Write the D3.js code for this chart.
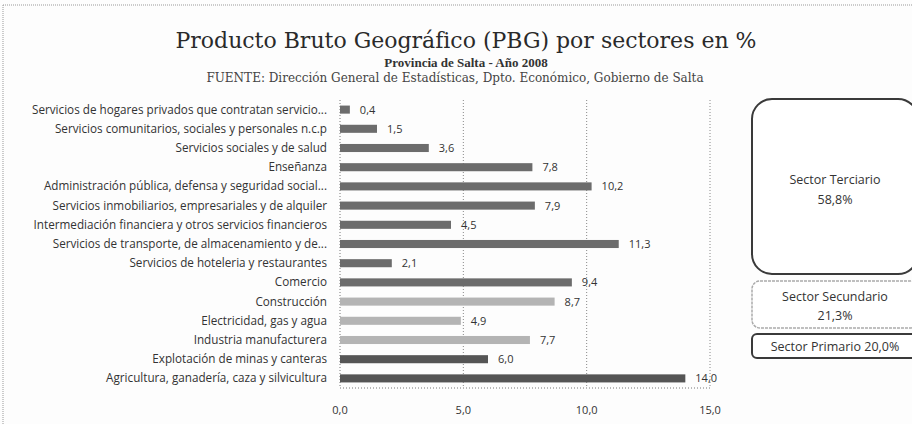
<!DOCTYPE html>
<html lang="es">
<head>
<meta charset="UTF-8" />
<title>PBG por sectores</title>
<script src="https://d3js.org/d3.v7.min.js"></script>
<style>
  html, body { margin: 0; padding: 0; background: #fff; }
  svg { display: block; }
</style>
</head>
<body>
<div id="chart"></div>
<script>
// --- Data ---
const categories = [
  "Servicios de hogares privados que contratan servicio...",
  "Servicios comunitarios, sociales y personales n.c.p",
  "Servicios sociales y de salud",
  "Enseñanza",
  "Administración pública, defensa y seguridad social...",
  "Servicios inmobiliarios, empresariales y de alquiler",
  "Intermediación financiera y otros servicios financieros",
  "Servicios de transporte, de almacenamiento  y de...",
  "Servicios de hoteleria y restaurantes",
  "Comercio",
  "Construcción",
  "Electricidad, gas y agua",
  "Industria manufacturera",
  "Explotación de minas y canteras",
  "Agricultura, ganadería, caza y silvicultura"
];
const values = [0.4, 1.5, 3.6, 7.8, 10.2, 7.9, 4.5, 11.3, 2.1, 9.4, 8.7, 4.9, 7.7, 6.0, 14.0];
const sectors = ["T", "T", "T", "T", "T", "T", "T", "T", "T", "T", "S", "S", "S", "P", "P"];
const xTicks = [0, 5, 10, 15];
const sectorBoxes = [
  { label: "Sector Terciario", value: "58,8%" },
  { label: "Sector Secundario", value: "21,3%" },
  { label: "Sector Primario", value: "20,0%" }
];

const W = 912, H = 424;
const svg = d3.select("#chart").append("svg").attr("width", W).attr("height", H);

svg.append("rect").attr("width", W).attr("height", H).attr("fill", "#fdfdfd");

// dotted frame of the scan
svg.append("line").attr("x1", 3).attr("x2", W).attr("y1", 5).attr("y2", 5)
  .attr("stroke", "#999").attr("stroke-dasharray", "1,1");
svg.append("line").attr("x1", 3).attr("x2", 3).attr("y1", 5).attr("y2", H)
  .attr("stroke", "#999").attr("stroke-dasharray", "1,1");

const serif = "'DejaVu Serif', 'Liberation Serif', serif";
const sans = "'Open Sans', Lato, sans-serif";

// titles
svg.append("text").attr("x", 466).attr("y", 48).attr("text-anchor", "middle")
  .attr("font-family", serif).attr("font-size", 22)
  .attr("fill", "#2a2a2a").text("Producto Bruto Geográfico (PBG) por sectores en %");
svg.append("text").attr("x", 466).attr("y", 67).attr("text-anchor", "middle")
  .attr("font-family", "'Liberation Serif', serif").attr("font-size", 13)
  .attr("font-weight", "bold").attr("fill", "#333").text("Provincia de Salta - Año 2008");
svg.append("text").attr("x", 455).attr("y", 82).attr("text-anchor", "middle")
  .attr("font-family", serif).attr("font-size", 12)
  .attr("fill", "#444").text("FUENTE:  Dirección General de Estadísticas, Dpto. Económico, Gobierno de Salta");

// --- scales ---
const plotTop = 100, plotBottom = 388;
const x = d3.scaleLinear().domain([0, 15]).range([340, 710]);
const y = d3.scaleBand().domain(categories).range([plotTop, plotBottom]).paddingInner(0.58).paddingOuter(0.29);

const colorOf = { T: "#6c6c6c", S: "#b4b4b4", P: "#555555" };

// gridlines
const g = svg.append("g");
g.selectAll("line.grid").data(xTicks.slice(1)).enter().append("line")
  .attr("class", "grid")
  .attr("x1", d => x(d)).attr("x2", d => x(d))
  .attr("y1", plotTop).attr("y2", plotBottom)
  .attr("stroke", "#888").attr("stroke-dasharray", "1,2");

// axes lines (dotted)
g.append("line").attr("x1", x(0)).attr("x2", x(0)).attr("y1", plotTop).attr("y2", plotBottom)
  .attr("stroke", "#777").attr("stroke-dasharray", "1,2");
g.append("line").attr("x1", x(0)).attr("x2", x(15)).attr("y1", plotBottom).attr("y2", plotBottom)
  .attr("stroke", "#777").attr("stroke-dasharray", "1,2");

// x axis labels
const fmt = d => d3.format(".1f")(d).replace(".", ",");
g.selectAll("text.xt").data(xTicks).enter().append("text")
  .attr("x", d => x(d)).attr("y", 414).attr("text-anchor", "middle")
  .attr("font-family", sans).attr("font-size", 11)
  .attr("fill", "#333").text(fmt);

// bars
g.selectAll("rect.bar").data(values).enter().append("rect")
  .attr("x", x(0))
  .attr("y", (d, i) => y(categories[i]))
  .attr("width", d => x(d) - x(0))
  .attr("height", y.bandwidth())
  .attr("fill", (d, i) => colorOf[sectors[i]]);

// value labels
g.selectAll("text.val").data(values).enter().append("text")
  .attr("x", d => x(d) + 10)
  .attr("y", (d, i) => y(categories[i]) + y.bandwidth() / 2 + 4)
  .attr("font-family", sans).attr("font-size", 11)
  .attr("fill", "#333").text(fmt);

// category labels
g.selectAll("text.cat").data(categories).enter().append("text")
  .attr("x", 327)
  .attr("y", d => y(d) + y.bandwidth() / 2 + 4)
  .attr("text-anchor", "end")
  .attr("font-family", sans).attr("font-size", 11.7)
  .attr("fill", "#333").text(d => d);

// sector boxes on the right
const bx = svg.append("g");
const cx = 835, fs = 12.5;
bx.append("rect").attr("x", 752).attr("y", 99).attr("width", 166).attr("height", 175)
  .attr("rx", 20).attr("fill", "#fff").attr("stroke", "#3a3a3a").attr("stroke-width", 2);
bx.append("text").attr("x", cx).attr("y", 184).attr("text-anchor", "middle")
  .attr("font-family", sans).attr("font-size", fs).attr("fill", "#333").text(sectorBoxes[0].label);
bx.append("text").attr("x", cx).attr("y", 204).attr("text-anchor", "middle")
  .attr("font-family", sans).attr("font-size", fs).attr("fill", "#333").text(sectorBoxes[0].value);

bx.append("rect").attr("x", 752).attr("y", 281).attr("width", 166).attr("height", 47)
  .attr("rx", 8).attr("fill", "#fff").attr("stroke", "#aaa").attr("stroke-width", 1.5)
  .attr("stroke-dasharray", "3,1");
bx.append("text").attr("x", cx).attr("y", 301).attr("text-anchor", "middle")
  .attr("font-family", sans).attr("font-size", fs).attr("fill", "#333").text(sectorBoxes[1].label);
bx.append("text").attr("x", cx).attr("y", 320).attr("text-anchor", "middle")
  .attr("font-family", sans).attr("font-size", fs).attr("fill", "#333").text(sectorBoxes[1].value);

bx.append("rect").attr("x", 752).attr("y", 334).attr("width", 166).attr("height", 24)
  .attr("rx", 5).attr("fill", "#fff").attr("stroke", "#3a3a3a").attr("stroke-width", 2);
bx.append("text").attr("x", cx).attr("y", 351).attr("text-anchor", "middle")
  .attr("font-family", sans).attr("font-size", fs).attr("fill", "#333")
  .text(sectorBoxes[2].label + " " + sectorBoxes[2].value);
</script>
</body>
</html>
